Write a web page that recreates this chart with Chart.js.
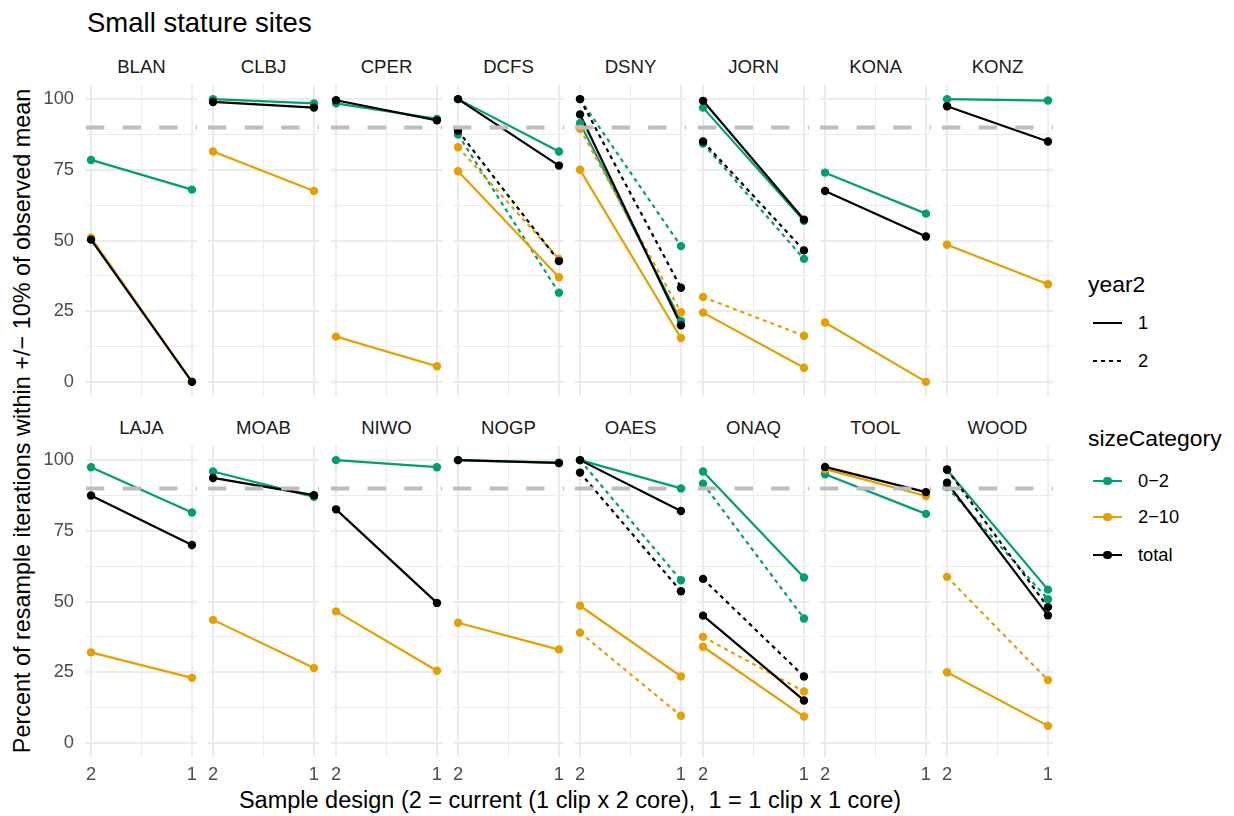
<!DOCTYPE html>
<html>
<head>
<meta charset="utf-8">
<script src="https://cdn.jsdelivr.net/npm/chart.js@4.4.0/dist/chart.umd.min.js"></script>
<style>
  body { margin: 0; background: #fff; font-family: "Liberation Sans", Arial, sans-serif; }
  #wrap { position: relative; width: 1234px; height: 816px; overflow: hidden; }
  .txt { position: absolute; white-space: pre; line-height: 1; }
  .c { transform: translate(-50%, -50%); }
  .l { transform: translate(0, -50%); }
  canvas { position: absolute; }
  .strip { font-size: 18.6px; color: #1a1a1a; }
  .key { position: absolute; }
</style>
</head>
<body>
<div id="wrap">
  <div class="txt" style="left:87px; top:9px; font-size:27.5px; color:#000;">Small stature sites</div>
  <div class="txt c" style="left:22.5px; top:421px; font-size:23.4px; transform:translate(-50%,-50%) rotate(-90deg);">Percent of resample iterations within +/− 10% of observed mean</div>
  <div class="txt c" style="left:570px; top:801px; font-size:23.5px;">Sample design (2 = current (1 clip x 2 core),  1 = 1 clip x 1 core)</div>

  <div class="txt l" style="left:1088px; top:284px; font-size:22.9px;">year2</div>
  <div class="key" style="left:1093px; top:322px; width:29px; height:2.2px; background:#000;"></div>
  <div class="txt l" style="left:1138px; top:323px; font-size:18.3px;">1</div>
  <div class="key" style="left:1093px; top:360px; width:29px; height:2.2px; background:repeating-linear-gradient(90deg,#000 0 4px,transparent 4px 8px);"></div>
  <div class="txt l" style="left:1138px; top:361px; font-size:18.3px;">2</div>

  <div class="txt l" style="left:1088px; top:438px; font-size:22.9px;">sizeCategory</div>
  <div id="legendKeys"></div>
</div>
<script>
var sites = ['BLAN', 'CLBJ', 'CPER', 'DCFS', 'DSNY', 'JORN', 'KONA', 'KONZ',
             'LAJA', 'MOAB', 'NIWO', 'NOGP', 'OAES', 'ONAQ', 'TOOL', 'WOOD'];
var sizeCategories = ['0−2', '2−10', 'total'];
var yTicks = [0, 12.5, 25, 37.5, 50, 62.5, 75, 87.5, 100];
var xTicks = [1, 1.5, 2];
var threshold = 90;

// year2 = 1 (solid lines); d2 = sample design 2, d1 = sample design 1
var small1_d2 = [78.5, 100, 98.5, 100, 91.5, 97, 74, 100, 97.5, 96, 100, 100, 100, 96, 95, 96.5];
var small1_d1 = [68, 98.5, 93, 81.5, 21.5, 57, 59.5, 99.5, 81.5, 87, 97.5, 99, 90, 58.5, 81, 54.2];
var mid1_d2 = [51, 81.5, 16, 74.5, 75, 24.5, 21, 48.5, 32, 43.5, 46.5, 42.5, 48.5, 34, 96.8, 25];
var mid1_d1 = [0, 67.5, 5.5, 37, 15.5, 5, 0, 34.5, 23, 26.5, 25.5, 33, 23.5, 9.3, 87.3, 6];
var total1_d2 = [50.3, 99, 99.6, 100, 94.6, 99.4, 67.5, 97.5, 87.5, 93.7, 82.6, 100, 100, 45, 97.6, 92];
var total1_d1 = [0, 97, 92.5, 76.5, 20, 57.4, 51.4, 85, 70, 87.6, 49.5, 99, 82, 15, 88.7, 45.1];

// year2 = 2 (dashed lines), only some sites
var small2_d2 = [null, null, null, 87.5, 100, 84.3, null, null, null, null, null, null, 100, 91.7, null, 90.5];
var small2_d1 = [null, null, null, 31.5, 48, 43.5, null, null, null, null, null, null, 57.5, 44, null, 50.8];
var mid2_d2 = [null, null, null, 83, 89.5, 30, null, null, null, null, null, null, 39, 37.5, null, 58.7];
var mid2_d1 = [null, null, null, 43.5, 24.6, 16.3, null, null, null, null, null, null, 9.6, 18.2, null, 22.2];
var total2_d2 = [null, null, null, 88.8, 100, 85, null, null, null, null, null, null, 95.6, 58, null, 96.7];
var total2_d1 = [null, null, null, 42.7, 33.3, 46.5, null, null, null, null, null, null, 53.6, 23.5, null, 48];

var colors = ['#009E73', '#E69F00', '#000000'];
var series = [
  {cat: 0, year: 1, d2: small1_d2, d1: small1_d1},
  {cat: 1, year: 1, d2: mid1_d2, d1: mid1_d1},
  {cat: 2, year: 1, d2: total1_d2, d1: total1_d1},
  {cat: 0, year: 2, d2: small2_d2, d1: small2_d1},
  {cat: 1, year: 2, d2: mid2_d2, d1: mid2_d1},
  {cat: 2, year: 2, d2: total2_d2, d1: total2_d1}
];

Chart.defaults.font.family = '"Liberation Sans", Arial, sans-serif';

var thresholdLine = {
  id: 'thresholdLine',
  afterDatasetsDraw: function(chart) {
    var ctx = chart.ctx, a = chart.chartArea;
    var y = chart.scales.y.getPixelForValue(threshold);
    ctx.save();
    ctx.strokeStyle = '#bebebe';
    ctx.lineWidth = 4;
    ctx.setLineDash([18.3, 18.3]);
    ctx.beginPath();
    ctx.moveTo(a.left, y);
    ctx.lineTo(a.right, y);
    ctx.stroke();
    ctx.restore();
  }
};

// no label padding around the panels, so all panels share one plot area
function noPad(s) {
  s.paddingTop = 0; s.paddingBottom = 0; s.paddingLeft = 0; s.paddingRight = 0;
}

var wrap = document.getElementById('wrap');

function makePanel(i) {
  var row = i < 8 ? 0 : 1, col = i % 8;
  var left = Math.round(86 + col * 122.3);
  var top = row === 0 ? 85 : 446;
  var axisW = col === 0 ? 56 : 0;
  var axisH = row === 1 ? 30 : 0;

  var strip = document.createElement('div');
  strip.className = 'txt c strip';
  strip.style.left = (left + 55.5) + 'px';
  strip.style.top = (row === 0 ? 67 : 428) + 'px';
  strip.textContent = sites[i];
  wrap.appendChild(strip);

  var cv = document.createElement('canvas');
  cv.width = 111 + axisW;
  cv.height = 311 + axisH;
  cv.style.left = (left - axisW) + 'px';
  cv.style.top = top + 'px';
  wrap.appendChild(cv);

  var datasets = [];
  series.forEach(function(s) {
    if (s.d2[i] == null) return;
    var pts = [{x: 2, y: s.d2[i]}, {x: 1, y: s.d1[i]}];
    datasets.push({
      data: pts, showLine: true, borderColor: colors[s.cat], borderWidth: 2.2,
      borderDash: s.year === 2 ? [4, 4] : [], borderCapStyle: 'butt',
      pointRadius: 0, order: 10 - s.cat
    });
    datasets.push({
      data: pts, showLine: false, backgroundColor: colors[s.cat],
      pointBackgroundColor: colors[s.cat], pointBorderWidth: 0,
      pointRadius: 4.2, order: 5 - s.cat
    });
  });

  new Chart(cv, {
    type: 'scatter',
    data: {datasets: datasets},
    plugins: [thresholdLine],
    options: {
      responsive: false, animation: false, events: [],
      layout: {padding: 0, autoPadding: false},
      clip: false,
      plugins: {legend: {display: false}, tooltip: {enabled: false}},
      scales: {
        x: {
          type: 'linear', reverse: true, min: 0.95, max: 2.05,
          afterBuildTicks: function(s) { s.ticks = xTicks.map(function(v) { return {value: v}; }); },
          afterFit: function(s) { s.height = axisH; noPad(s); },
          border: {display: false},
          grid: {color: '#ebebeb', drawTicks: false,
                 lineWidth: function(c) { return c.tick && c.tick.value === 1.5 ? 1 : 2; }},
          ticks: {display: row === 1, autoSkip: false, maxRotation: 0, padding: 7,
                  color: '#4d4d4d', font: {size: 18.3},
                  callback: function(v) { return v === 1.5 ? '' : String(v); }}
        },
        y: {
          type: 'linear', min: -5, max: 105,
          afterBuildTicks: function(s) { s.ticks = yTicks.map(function(v) { return {value: v}; }); },
          afterFit: function(s) { s.width = axisW; noPad(s); },
          border: {display: false},
          grid: {color: '#ebebeb', drawTicks: false,
                 lineWidth: function(c) { return c.tick && c.tick.value % 25 === 0 ? 2 : 1; }},
          ticks: {display: col === 0, autoSkip: false, padding: 12,
                  color: '#4d4d4d', font: {size: 18.3},
                  callback: function(v) { return v % 25 === 0 ? String(v) : ''; }}
        }
      }
    }
  });
}

for (var i = 0; i < sites.length; i++) makePanel(i);

// legend keys for sizeCategory
var keyY = [481, 517, 555];
var lk = document.getElementById('legendKeys');
sizeCategories.forEach(function(name, k) {
  var line = document.createElement('div');
  line.className = 'key';
  line.style.cssText = 'left:1093px; top:' + (keyY[k] - 1.1) + 'px; width:29px; height:2.2px; background:' + colors[k] + ';';
  lk.appendChild(line);
  var dot = document.createElement('div');
  dot.className = 'key';
  dot.style.cssText = 'left:' + (1107.5 - 4.2) + 'px; top:' + (keyY[k] - 4.2) + 'px; width:8.4px; height:8.4px; border-radius:50%; background:' + colors[k] + ';';
  lk.appendChild(dot);
  var lab = document.createElement('div');
  lab.className = 'txt l';
  lab.style.cssText = 'left:1138px; top:' + keyY[k] + 'px; font-size:18.3px;';
  lab.textContent = name;
  lk.appendChild(lab);
});
</script>
</body>
</html>
